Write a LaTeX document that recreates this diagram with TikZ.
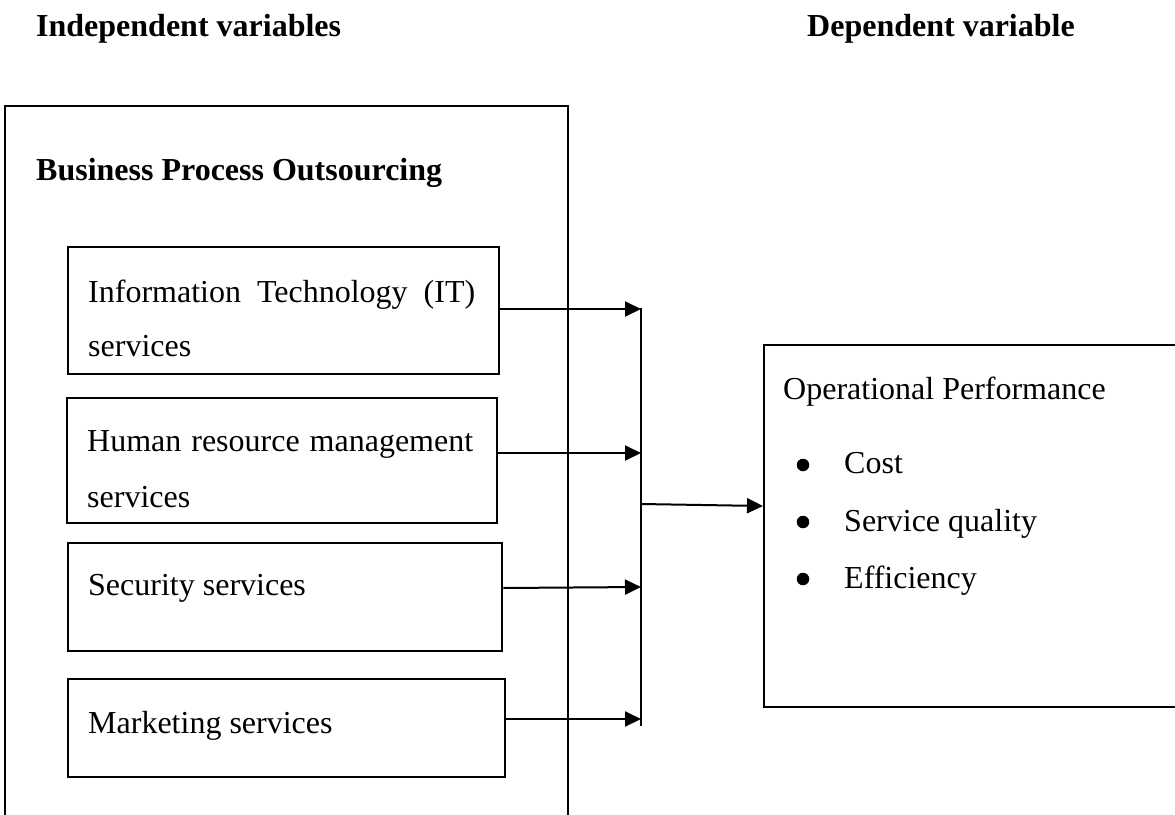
\documentclass[tikz,border=0pt]{standalone}
\usepackage{fontspec}
\setmainfont{Liberation Serif}
\usetikzlibrary{arrows.meta}

\tikzset{
  frame/.style={draw, line width=2.3pt, rectangle, inner sep=0pt, anchor=north west},
  label/.style={anchor=base west, inner sep=0pt},
  head/.style={label, font=\fontsize{32}{38}\selectfont\bfseries},
  flow/.style={line width=2pt, -{Triangle[length=16pt,width=15pt]}},
  bus/.style={line width=1.2pt},
  dot/.style={circle, fill, inner sep=0pt, minimum size=12.5pt}
}

\begin{document}
\begin{tikzpicture}[x=1pt, y=-1pt, font=\fontsize{32}{38}\selectfont]
  \useasboundingbox (0,0) rectangle (1175,814);

  % column headings
  \node[head] (hind) at (36,36) {Independent variables};
  \node[head] (hdep) at (807,36) {Dependent variable};

  % outer frame of the independent variables (runs past the lower edge)
  \node[frame, minimum width=563pt, minimum height=760pt] (bpo) at (4,105) {};
  \node[head] (bpot) at (36,180) {Business Process Outsourcing};

  % the four outsourced services
  \node[frame, minimum width=431pt, minimum height=127pt] (it) at (67,246) {};
  \node[label] (it1) at (88,302) {\makebox[387pt][s]{Information Technology (IT)}};
  \node[label] (it2) at (88,356) {services};

  \node[frame, minimum width=430pt, minimum height=125pt] (hr) at (66,397) {};
  \node[label] (hr1) at (87,451) {\makebox[386pt][s]{Human resource management}};
  \node[label] (hr2) at (87,507) {services};

  \node[frame, minimum width=434pt, minimum height=108pt] (sec) at (67,542) {};
  \node[label] (sec1) at (88,595) {Security services};

  \node[frame, minimum width=437pt, minimum height=98pt] (mkt) at (67,678) {};
  \node[label] (mkt1) at (88,733) {Marketing services};

  % dependent variable box (runs past the right edge)
  \node[frame, minimum width=440pt, minimum height=362pt] (op) at (763,344) {};
  \node[label] (opt) at (783,399) {Operational Performance};
  \node[dot] (d1) at (803,465) {};
  \node[label] (o1) at (844,473) {Cost};
  \node[dot] (d2) at (803,522) {};
  \node[label] (o2) at (844,531) {Service quality};
  \node[dot] (d3) at (803,579) {};
  \node[label] (o3) at (844,588) {Efficiency};

  % collecting bus
  \coordinate (bt) at (641,308);
  \coordinate (bb) at (641,726);
  \coordinate (b1) at (641,309);
  \coordinate (b2) at (641,453);
  \coordinate (b3) at (641,587);
  \coordinate (b4) at (641,719);
  \coordinate (bm) at (641,504);
  \coordinate (s3) at (0,588);
  \coordinate (om) at (0,506);

  \draw[bus] (bt) -- (bb);
  \draw[flow] (it.east |- b1) -- (b1);
  \draw[flow] (hr.east |- b2) -- (b2);
  \draw[flow] (sec.east |- s3) -- (b3);
  \draw[flow] (mkt.east |- b4) -- (b4);
  \draw[flow] (bm) -- (op.west |- om);
\end{tikzpicture}
\end{document}
